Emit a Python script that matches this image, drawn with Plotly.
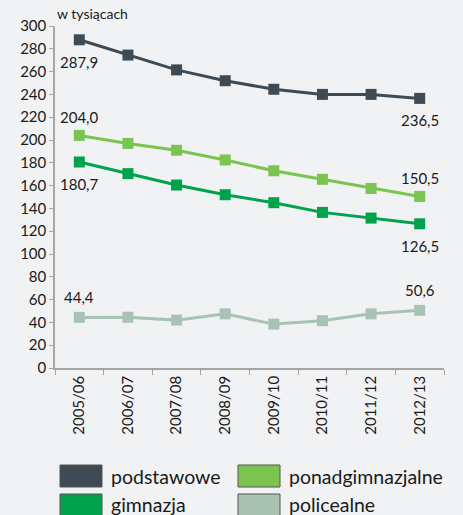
import plotly.graph_objects as go

categories = ["2005/06", "2006/07", "2007/08", "2008/09", "2009/10", "2010/11", "2011/12", "2012/13"]
podstawowe = [287.9, 274.5, 261.5, 252.0, 244.5, 240.0, 240.0, 236.5]
ponadgimnazjalne = [204.0, 197.0, 191.0, 182.5, 173.0, 165.5, 157.5, 150.5]
gimnazjum = [180.7, 170.5, 160.5, 152.0, 145.0, 136.5, 131.5, 126.5]
policealne = [44.4, 44.5, 42.0, 47.5, 38.5, 41.5, 47.5, 50.6]
y_ticks = list(range(0, 301, 20))

series = [
    ("podstawowe", podstawowe, "#3e4a54", -22, -22),
    ("ponadgimnazjalne", ponadgimnazjalne, "#7cc452", 18, 18),
    ("gimnazja", gimnazjum, "#00a24c", -22, -22),
    ("policealne", policealne, "#a8c3b3", 20, 20),
]

FONT = "Lato, 'Open Sans', sans-serif"
TXT = "#1a1a1a"

fig = go.Figure()
for name, vals, col, s0, s1 in series:
    fig.add_trace(go.Scatter(
        x=categories, y=vals, mode="lines+markers", name=name,
        line=dict(color=col, width=3),
        marker=dict(symbol="square", size=11, color=col),
        showlegend=False,
    ))
    for idx, sh in ((0, s0), (len(vals) - 1, s1)):
        fig.add_annotation(
            x=categories[idx], y=vals[idx],
            text=f"{vals[idx]:.1f}".replace(".", ","),
            showarrow=False, yshift=sh,
            font=dict(family=FONT, size=15, color=TXT),
        )

fig.add_annotation(
    xref="paper", yref="paper", x=0.0, y=1.0, xanchor="left", yanchor="bottom",
    yshift=2, text="w tysiącach", showarrow=False,
    font=dict(family=FONT, size=14, color=TXT),
)

W, H = 463, 515
ml, mr, mt, mb = 55, 19, 26, 147
pw, ph = W - ml - mr, H - mt - mb

# legend drawn as swatches
legend_items = [
    ("podstawowe", "#3e4a54", 60, 465),
    ("gimnazja", "#00a24c", 60, 494),
    ("ponadgimnazjalne", "#7cc452", 238, 465),
    ("policealne", "#a8c3b3", 238, 494),
]
for name, col, px, py in legend_items:
    x0 = (px - ml) / pw
    x1 = (px + 42 - ml) / pw
    y0 = (H - mb - (py + 22)) / ph
    y1 = (H - mb - py) / ph
    fig.add_shape(type="rect", xref="paper", yref="paper", x0=x0, x1=x1, y0=y0, y1=y1,
                  fillcolor=col, line=dict(color="#555555", width=1))
    fig.add_annotation(xref="paper", yref="paper", x=(px + 49 - ml) / pw, y=(y0 + y1) / 2,
                       xanchor="left", yanchor="middle", text=name, showarrow=False,
                       font=dict(family=FONT, size=19.5, color=TXT))

fig.update_layout(
    width=W, height=H,
    margin=dict(l=ml, r=mr, t=mt, b=mb),
    paper_bgcolor="#f1f2f3", plot_bgcolor="rgba(0,0,0,0)",
    showlegend=False,
    font=dict(family=FONT, size=14, color=TXT),
)
fig.update_xaxes(
    type="category", range=[-0.5, 7.5], tickangle=-90,
    showline=True, linecolor="#a6a6a6", linewidth=1.5,
    ticks="outside", tickson="boundaries", ticklen=5, tickcolor="#a6a6a6",
    showgrid=False, tickfont=dict(family=FONT, size=15, color=TXT),
)
fig.update_yaxes(
    range=[0, 300], tickvals=y_ticks, showline=True, linecolor="#a6a6a6", linewidth=1.5,
    ticks="outside", ticklen=4, tickcolor="#a6a6a6", showgrid=False, zeroline=False,
    tickfont=dict(family=FONT, size=15, color=TXT),
)

fig.write_html(
    "out.html",
    config={"displayModeBar": False},
    post_script="document.body.style.margin='0';document.body.style.background='#f1f2f3';",
)
